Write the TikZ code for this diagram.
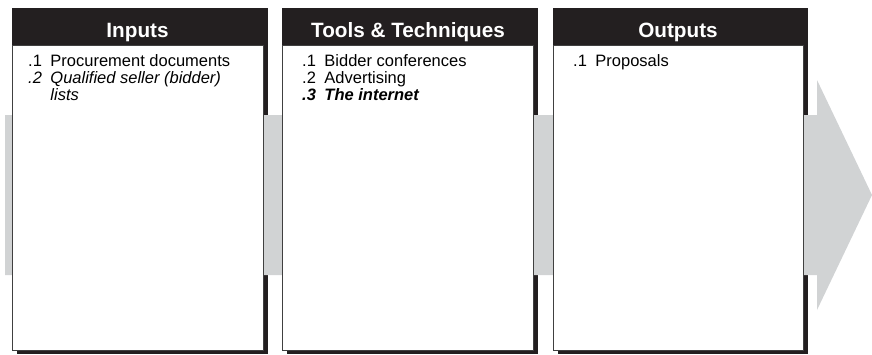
\documentclass[tikz,border=0pt]{standalone}
\usepackage{fontspec}
\setmainfont{Liberation Sans}
\definecolor{inkdark}{HTML}{231F20}
\definecolor{bandgray}{HTML}{D1D3D4}
\tikzset{
  shadowbox/.style={fill=inkdark, draw=none},
  bodybox/.style={fill=white, draw=black!75, line width=0.8pt},
  headbox/.style={fill=inkdark, draw=none},
  headtext/.style={anchor=base, text=white, inner sep=0pt, font=\fontsize{20.7}{24}\selectfont\bfseries},
  itemlist/.style={anchor=base west, inner sep=0pt, align=left, font=\fontsize{16.5}{17}\selectfont}
}
\newcommand{\itemtab}[1]{\begin{tabular}[t]{@{}r@{\hspace{8.5pt}}l@{}}#1\end{tabular}}
\begin{document}
\begin{tikzpicture}[x=1pt,y=-1pt]
    \useasboundingbox (0,0) rectangle (872,354);

    % shadows
    \foreach \l/\r in {12/263, 282/533, 553/803}
        \fill[shadowbox] (\l+5,8) rectangle (\r+5,354);

    % flow band
    \fill[bandgray] (5,115) -- (817,115) -- (817,80) -- (872,195)
        -- (817,310) -- (817,275) -- (5,275) -- cycle;

    % boxes
    \foreach \l/\r in {12/263, 282/533, 553/803} {
        \draw[bodybox] (\l,45) rectangle (\r,350);
        \fill[headbox] (\l,8) rectangle (\r+5,45);
    }

    % inputs
    \node[headtext] (inputs) at (137.5,37.5) {Inputs};
    \node[itemlist] (inlist) at (28,66) {\itemtab{%
        .1 & Procurement documents\\
        \itshape .2 & \itshape Qualified seller (bidder)\\
        & \itshape lists}};

    % tools
    \node[headtext] (tools) at (408,37.5) {Tools \& Techniques};
    \node[itemlist] (toollist) at (302,66) {\itemtab{%
        .1 & Bidder conferences\\
        .2 & Advertising\\
        \bfseries\itshape .3 & \bfseries\itshape The internet}};

    % outputs
    \node[headtext] (outputs) at (678,37.5) {Outputs};
    \node[itemlist] (outlist) at (573,66) {\itemtab{%
        .1 & Proposals}};

\end{tikzpicture}
\end{document}
